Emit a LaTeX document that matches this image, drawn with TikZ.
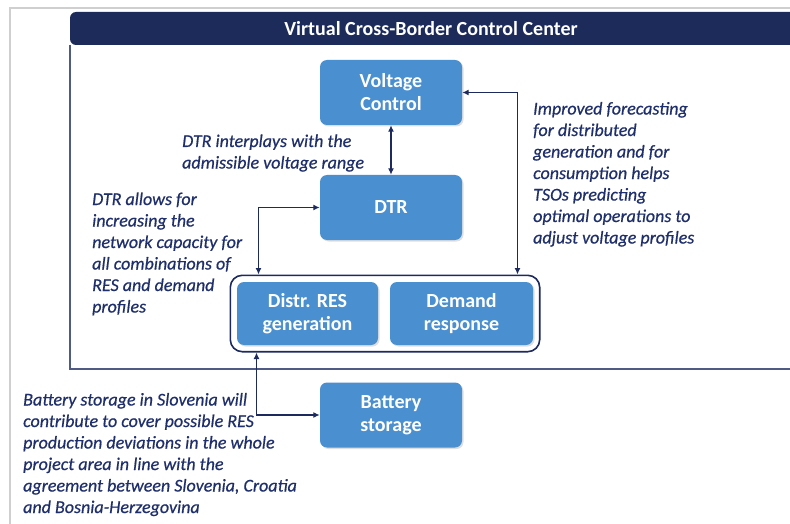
\documentclass[tikz,border=0pt]{standalone}
\usepackage{fontspec}
\setmainfont{Carlito}
\newfontfamily\noteFont{Carlito}[ItalicFeatures={FakeBold=0.6}]
\usetikzlibrary{positioning,fit,shadows,arrows.meta}
\newdimen\rowDist
\rowDist=115pt

\definecolor{hdrNavy}{HTML}{1C2B5A}
\definecolor{boxBlue}{HTML}{4A8FCF}
\definecolor{noteNavy}{HTML}{1F2F6B}
\definecolor{lineNavy}{HTML}{1C2A5E}
\definecolor{frameNavy}{HTML}{4F5B85}
\definecolor{pageGray}{HTML}{CFCFCF}

\begin{document}
\begin{tikzpicture}[
    x=1pt,
    y=-1pt,
    block/.style={%
      fill=boxBlue,
      rounded corners=7pt,
      minimum width=142pt,
      minimum height=65pt,
      text=white,
      align=center,
      font=\fontsize{20}{23}\selectfont\bfseries,
      drop shadow={opacity=0.25,shadow xshift=1.5pt,shadow yshift=-1.5pt},
    },
    group/.style={%
      draw=lineNavy,
      line width=1.6pt,
      rounded corners=12pt,
      inner sep=6.5pt,
    },
    note/.style={%
      anchor=base west,
      align=left,
      inner sep=0pt,
      text=noteNavy,
      font=\noteFont\fontsize{18}{21.5}\selectfont\itshape,
    },
    link/.style={%
      draw=lineNavy,
      line width=1.8pt,
      {Latex[length=6.5pt,width=6pt]}-{Latex[length=6.5pt,width=6pt]},
    },
  ]

    \useasboundingbox (0,0) rectangle (790,524);
    \draw [pageGray, line width=1.5pt] (10,524) -- (10,8) -- (790,8);
    \fill [hdrNavy, rounded corners=6pt] (800,12) -- (70,12) -- (70,45) -- (800,45);
    \draw [frameNavy, line width=1.2pt] (70,45) |- (800,369);
    \node [text=white, font=\fontsize{20}{24}\selectfont\bfseries] (hdr) at (431,29) {Virtual Cross-Border Control Center};

    \node [block] (V) at (391,92.5) {Voltage\\Control};
    \path (V) ++(-90:\rowDist) node [block] (D) {DTR};
    \node [block, minimum width=141pt, minimum height=63pt] (R) at (307.5,313.5) {Distr. RES\\generation};
    \path (R) ++(154,0) node [block, minimum width=143pt, minimum height=63pt] (M) {Demand\\response};
    \node [block] (B) at (391,415) {Battery\\storage};
    \node [group, fit=(R)(M)] (G) {};

    \path (G.north west) ++(29,0) coordinate (gTopL);
    \path (G.north east) ++(-23,0) coordinate (gTopR);
    \path (G.south west) ++(27,0) coordinate (gBotL);

    \draw [link] (V) -- (D);
    \draw [link] (V.east) -| (gTopR);
    \draw [link] (D.west) -| (gTopL);
    \draw [link] (gBotL) |- (B.west);

    \node [note] (n1) at (182,168.5) {DTR interplays with the\\admissible voltage range};
    \node [note] (n2) at (92,312.5) {DTR allows for\\increasing the\\network capacity for\\all combinations of\\RES and demand\\profiles};
    \node [note] (n3) at (533,243.5) {Improved forecasting\\for distributed\\generation and for\\consumption helps\\TSOs predicting\\optimal operations to\\adjust voltage profiles};
    \node [note] (n4) at (23,513) {Battery storage in Slovenia will\\contribute to cover possible RES\\production deviations in the whole\\project area in line with the\\agreement between Slovenia, Croatia\\and Bosnia-Herzegovina};

\end{tikzpicture}
\end{document}
